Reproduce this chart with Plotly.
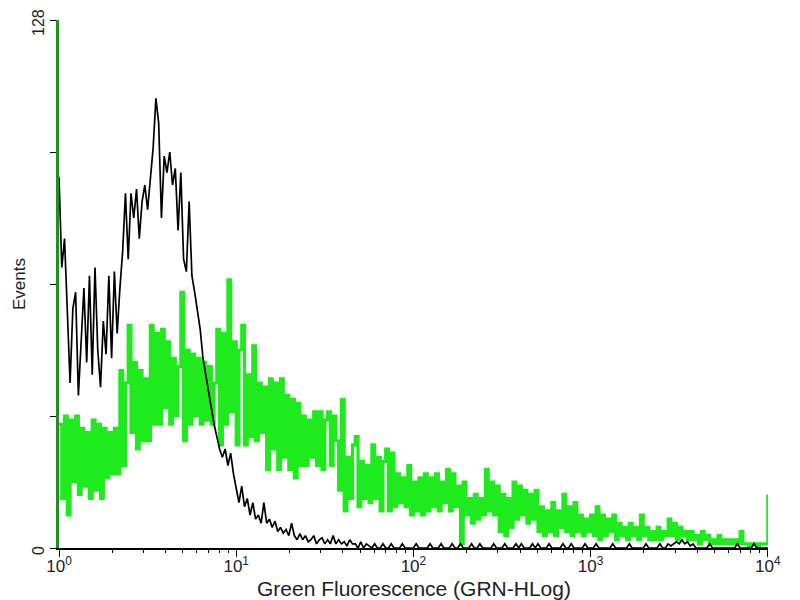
import numpy as np
import plotly.graph_objects as go

# Histogram counts per log channel (64 channels per decade, channel 0 = 10^0)
green_counts = [
    30, 12, 32, 8, 31, 16, 32, 13,
    29, 15, 28, 12, 31, 14, 30, 12,
    29, 17, 28, 18, 29, 18, 43, 20,
    40, 54, 28, 45, 24, 43, 26, 41,
    26, 54, 30, 52, 30, 53, 34, 50,
    30, 46, 32, 44, 62, 26, 48, 30,
    47, 32, 46, 30, 45, 31, 44, 30,
    40, 53, 25, 52, 30, 65, 33, 50,
    25, 48, 54, 25, 42, 27, 49, 26,
    40, 28, 39, 19, 41, 24, 40, 19,
    41, 22, 37, 19, 36, 17, 35, 20,
    32, 20, 31, 22, 33, 20, 33, 19,
    31, 33, 20, 32, 26, 14, 36, 9,
    22, 12, 25, 27, 10, 21, 12, 20,
    11, 25, 12, 22, 9, 21, 24, 9,
    23, 10, 18, 11, 17, 10, 20, 8,
    16, 9, 17, 8, 18, 9, 17, 10,
    18, 9, 16, 11, 19, 9, 18, 10,
    15, 1, 16, 8, 12, 6, 13, 7,
    12, 8, 19, 9, 16, 8, 15, 4,
    13, 3, 12, 5, 16, 7, 15, 8,
    14, 6, 13, 7, 14, 4, 10, 3,
    9, 4, 11, 3, 9, 5, 13, 4,
    10, 3, 11, 4, 8, 3, 7, 4,
    8, 3, 10, 2, 8, 3, 7, 4,
    8, 2, 6, 3, 5, 2, 6, 3,
    5, 2, 8, 3, 5, 2, 4, 2,
    5, 2, 4, 3, 7, 3, 6, 2,
    5, 3, 4, 2, 4, 2, 3, 1,
    4, 2, 3, 1, 2, 1, 3, 1,
    2, 1, 2, 1, 2, 1, 4, 1,
    1, 0, 1, 1, 0, 1, 1, 1,
    13,
]

black_counts = [
    90, 68, 75, 55, 40, 58, 62, 37,
    50, 63, 45, 66, 42, 68, 48, 39,
    55, 47, 66, 46, 67, 52, 63, 72,
    86, 70, 86, 80, 87, 75, 84, 88,
    82, 90, 97, 109, 103, 80, 95, 91,
    96, 88, 92, 77, 91, 70, 67, 84,
    66, 62, 57, 53, 46, 42, 38, 33,
    30, 27, 24, 22, 24, 20, 23, 18,
    14, 11, 15, 10, 12, 8, 11, 7,
    8, 6, 11, 6, 7, 5, 6.5, 4,
    5, 3.6, 4.5, 3, 6, 3, 2, 3.5,
    2, 3, 1.5, 2, 3, 1, 2, 2.5,
    1, 2, 1, 3, 1, 2, 1, 1.5,
    0.5, 2, 1, 1, 0, 1.5, 0, 1,
    0.5, 0, 1, 0, 0, 1, 0, 0,
    1, 0, 0, 0, 1, 0, 0, 0,
    0, 1, 0, 0, 0, 0, 1, 0,
    0, 0, 1, 0, 0, 0, 1, 0,
    0, 1, 0, 0, 0, 1, 0, 0,
    1, 0, 0, 0, 0, 1, 0, 0,
    0, 1, 0, 0, 0, 1, 0, 1,
    0, 0, 0, 1, 0, 1, 0, 0,
    0, 1, 0, 0, 0, 0, 1, 0,
    0, 1, 0, 0, 0, 0, 1, 0,
    0, 0, 1, 0, 0, 0, 0, 0,
    1, 0, 0, 0, 0, 0, 1, 0,
    0, 0, 0, 0, 1, 0, 0, 0,
    0, 1, 0, 0, 1, 0.5, 1, 1.5,
    1, 2, 1, 1.5, 0.5, 1, 0, 0,
    0, 0, 0, 1, 0, 0, 0, 0,
    0, 0, 0, 0, 0, 1, 0, 0,
    0, 0, 0, 1, 0, 0, 0, 0, 0,
]

channels_per_decade = 64
x_tick_values = [1, 10, 100, 1000, 10000]
x_tick_labels = ["10<sup>0</sup>", "10<sup>1</sup>", "10<sup>2</sup>", "10<sup>3</sup>", "10<sup>4</sup>"]
y_tick_values = [0, 32, 64, 96, 128]
y_tick_labels = ["0", "", "", "", "128"]
x_title = "Green Fluorescence (GRN-HLog)"
y_title = "Events"


def channel_to_fluorescence(n):
    return 10 ** (np.arange(n) / channels_per_decade)


fig = go.Figure()
fig.add_trace(go.Scatter(
    x=channel_to_fluorescence(len(green_counts)), y=green_counts,
    mode="lines", line=dict(color="#1eea1e", width=3.2, shape="hv"),
    showlegend=False, hoverinfo="skip",
))
fig.add_trace(go.Scatter(
    x=channel_to_fluorescence(len(black_counts)), y=black_counts,
    mode="lines", line=dict(color="#000000", width=1.7, shape="linear"),
    showlegend=False, hoverinfo="skip",
))

minor_vals = [m * 10 ** d for d in range(4) for m in range(2, 10)]

# the page body adds an 8px offset, so margins are reduced on left/top
fig.update_layout(
    width=800, height=600,
    margin=dict(l=51, r=40, t=12, b=60),
    paper_bgcolor="white", plot_bgcolor="white",
    font=dict(family="Liberation Sans, Arial, sans-serif", size=17, color="#222"),
    xaxis=dict(
        type="log", range=[0, 4.001], automargin=False,
        tickvals=x_tick_values, ticktext=x_tick_labels,
        ticks="outside", ticklen=7, tickcolor="black", tickwidth=1.2,
        ticklabelstandoff=-5, ticklabeloverflow="allow",
        minor=dict(tickvals=minor_vals, ticks="outside", ticklen=3, tickcolor="black", showgrid=False),
        showline=True, linecolor="black", linewidth=1.5,
        showgrid=False, zeroline=False,
    ),
    yaxis=dict(
        range=[0, 128], automargin=False,
        tickvals=y_tick_values, ticktext=y_tick_labels, tickangle=-90,
        ticks="outside", ticklen=6, tickcolor="black", tickwidth=1.2,
        ticklabeloverflow="allow", ticklabelshift=5,
        tickfont=dict(size=16),
        showline=True, linecolor="#1f8f1f", linewidth=2.5,
        showgrid=False, zeroline=False,
        title=dict(text=y_title, font=dict(size=17), standoff=0),
    ),
    annotations=[dict(
        text=x_title, xref="paper", yref="paper", x=0.5, y=-0.077,
        xanchor="center", yanchor="middle", showarrow=False,
        font=dict(size=21, color="#222"),
    )],
)

fig.write_html("out.html")
